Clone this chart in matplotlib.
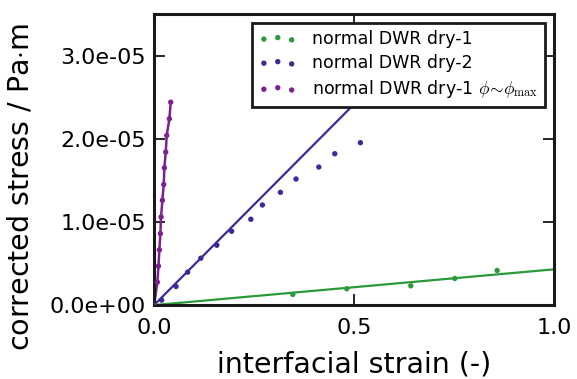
import numpy as np
import matplotlib
matplotlib.use("Agg")
import matplotlib.pyplot as plt

# measured points (strain, stress in Pa m)
strain_dry1 = [0.347, 0.482, 0.642, 0.752, 0.858]
stress_dry1 = [1.28e-6, 1.96e-6, 2.32e-6, 3.20e-6, 4.16e-6]

strain_dry2 = [0.019, 0.055, 0.084, 0.117, 0.157, 0.194, 0.242, 0.271,
               0.316, 0.355, 0.412, 0.452, 0.516]
stress_dry2 = [0.06e-5, 0.224e-5, 0.396e-5, 0.564e-5, 0.72e-5, 0.888e-5,
               1.032e-5, 1.204e-5, 1.356e-5, 1.516e-5, 1.66e-5, 1.82e-5,
               1.953e-5]

strain_max = [0.0, 0.0083, 0.011, 0.0133, 0.0158, 0.0175, 0.0208, 0.0242,
              0.0258, 0.0292, 0.0317, 0.0383, 0.0417]
stress_max = [0.0, 0.276e-5, 0.468e-5, 0.664e-5, 0.86e-5, 1.06e-5, 1.26e-5,
              1.45e-5, 1.65e-5, 1.84e-5, 2.04e-5, 2.24e-5, 2.44e-5]

# linear fits (slope, end of line)
fit_dry1 = (4.3e-6, 1.0)
fit_dry2 = (4.83e-5, 0.6)

green = "#2a9a3a"
blue = "#3a2b99"
purple = "#7d2191"

plt.rcParams["font.family"] = "DejaVu Sans"
plt.rcParams["mathtext.fontset"] = "cm"

fig = plt.figure(figsize=(5.77, 3.79), dpi=100)
ax = fig.add_axes([0.267, 0.195, 0.693, 0.768])

ax.scatter(strain_dry1, stress_dry1, s=15, color=green, edgecolors="none",
           label="normal DWR dry-1", zorder=3)
ax.scatter(strain_dry2, stress_dry2, s=15, color=blue, edgecolors="none",
           label="normal DWR dry-2", zorder=3)
ax.scatter(strain_max, stress_max, s=15, color=purple, edgecolors="none",
           label=r"normal DWR dry-1 $\phi\!\sim\!\phi_{\mathrm{max}}$", zorder=3)

xx = np.array([0.0, fit_dry1[1]])
ax.plot(xx, fit_dry1[0] * xx, color=green, lw=1.6)
xx = np.array([0.0, fit_dry2[1]])
ax.plot(xx, fit_dry2[0] * xx, color=blue, lw=1.6)
ax.plot(strain_max, stress_max, color=purple, lw=1.8)

ax.set_xlim(0, 1.0)
ax.set_ylim(0, 3.5e-5)
ax.set_xticks([0.0, 0.5, 1.0])
ax.set_yticks([0.0, 1e-5, 2e-5, 3e-5])
ax.set_xticklabels(["0.0", "0.5", "1.0"])
ax.set_yticklabels(["0.0e+00", "1.0e-05", "2.0e-05", "3.0e-05"])

for sp in ax.spines.values():
    sp.set_linewidth(2.2)
    sp.set_color("#1a1a1a")
ax.tick_params(direction="in", length=8, width=1.2, labelsize=16,
               top=True, right=True)
ax.tick_params(axis="x", pad=9)
ax.tick_params(axis="y", pad=6)

ax.set_xlabel("interfacial strain (-)", fontsize=20.5, labelpad=9)
ax.set_ylabel(r"corrected stress / Pa$\cdot$m", fontsize=20.5)
ax.yaxis.set_label_coords(-0.30, 0.405)

leg = ax.legend(loc="upper right", scatterpoints=3, fontsize=12.5,
                fancybox=False, framealpha=1, edgecolor="#1a1a1a",
                borderaxespad=0.5, handlelength=2.2, handletextpad=0.9,
                labelspacing=0.35)
leg.get_frame().set_linewidth(2.0)

fig.savefig("out.png", dpi=100)
